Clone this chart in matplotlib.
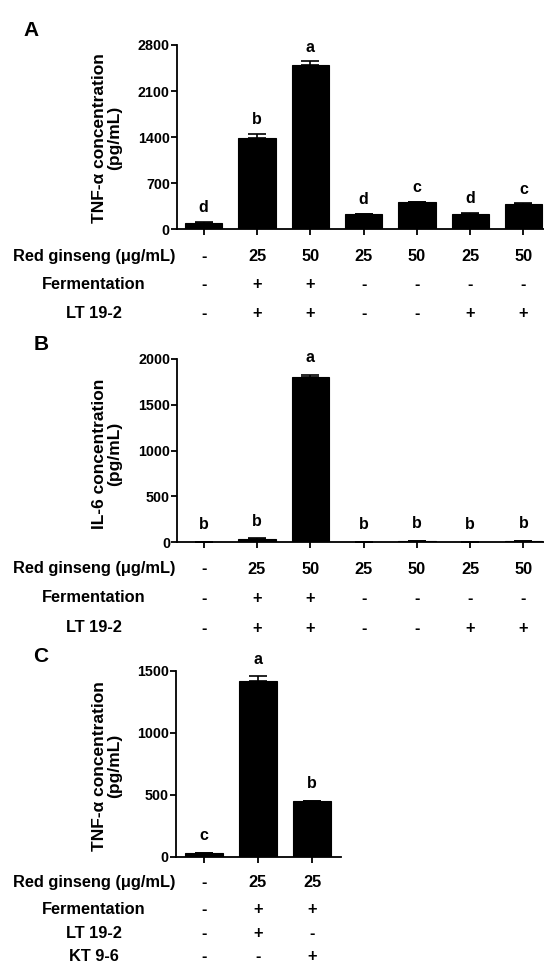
import matplotlib
matplotlib.use("Agg")
import matplotlib.pyplot as plt
import matplotlib.transforms as mtransforms
import numpy as np

plt.rcParams['font.family'] = ['Liberation Sans', 'DejaVu Sans']
plt.rcParams['font.weight'] = 'bold'

# ---------------- data ----------------
a_values = [100, 1380, 2500, 232, 409, 237, 389]
a_errors = [8, 65, 50, 8, 6, 8, 6]
a_letters = ['d', 'b', 'a', 'd', 'c', 'd', 'c']
a_yticks = [0, 700, 1400, 2100, 2800]
a_ylabel = "TNF-\u03b1 concentration\n(pg/mL)"

b_values = [3, 35, 1800, 3, 10, 3, 10]
b_errors = [1, 5, 30, 1, 2, 1, 2]
b_letters = ['b', 'b', 'a', 'b', 'b', 'b', 'b']
b_yticks = [0, 500, 1000, 1500, 2000]
b_ylabel = "IL-6 concentration\n(pg/mL)"

c_values = [30, 1420, 446]
c_errors = [3, 35, 4]
c_letters = ['c', 'a', 'b']
c_yticks = [0, 500, 1000, 1500]
c_ylabel = "TNF-\u03b1 concentration\n(pg/mL)"

row_names_ab = ["Red ginseng (\u03bcg/mL)", "Fermentation", "LT 19-2"]
rows_ab = [
    ["-", "25", "50", "25", "50", "25", "50"],
    ["-", "+", "+", "-", "-", "-", "-"],
    ["-", "+", "+", "-", "-", "+", "+"],
]
row_names_c = ["Red ginseng (\u03bcg/mL)", "Fermentation", "LT 19-2", "KT 9-6"]
rows_c = [
    ["-", "25", "25"],
    ["-", "+", "+"],
    ["-", "+", "-"],
    ["-", "-", "+"],
]

W, H = 544, 965
fig = plt.figure(figsize=(W / 100, H / 100), dpi=100)

ROW_FS = 11.8


def px_axes(left, right, top, bottom):
    return fig.add_axes([left / W, 1 - bottom / H, (right - left) / W, (bottom - top) / H])


def draw_panel(ax, values, errors, letters, yticks, ylabel, xlim, ylabel_y, letter_off):
    x = np.arange(len(values))
    ax.bar(x, values, width=0.70, color='black', edgecolor='black', linewidth=0.8, zorder=2)
    ax.errorbar(x, values, yerr=[np.zeros(len(values)), errors], fmt='none',
                ecolor='black', elinewidth=1.2, capsize=6.8, capthick=1.2, zorder=3)
    for xi, v, e, l in zip(x, values, errors, letters):
        ax.annotate(l, (xi, v + e), xytext=(0, letter_off), textcoords='offset points',
                    ha='center', va='baseline', fontsize=11.5, fontweight='bold')
    ax.set_xlim(*xlim)
    ax.set_ylim(0, yticks[-1])
    ax.set_yticks(yticks)
    ax.set_yticklabels([str(t) for t in yticks], fontsize=10.3, fontweight='bold')
    ax.set_xticks(x)
    ax.set_xticklabels([])
    for s in ['top', 'right']:
        ax.spines[s].set_visible(False)
    for s in ['left', 'bottom']:
        ax.spines[s].set_linewidth(1.3)
    ax.tick_params(axis='both', direction='out', length=4, width=1.3, pad=1)
    fig.text(107 / W, 1 - ylabel_y / H, ylabel, rotation=90, ha='center', va='center',
             fontsize=12.5, fontweight='bold', multialignment='center', linespacing=1.05)


def draw_table(ax, names, rows, ys):
    trans = mtransforms.blended_transform_factory(ax.transData, fig.transFigure)
    for name, row, y in zip(names, rows, ys):
        fig.text(94 / W, 1 - y / H, name, ha='center', va='center', fontsize=ROW_FS,
                 fontweight='bold')
        for i, s in enumerate(row):
            ax.text(i, 1 - y / H, s, transform=trans, ha='center', va='center',
                    fontsize=ROW_FS, fontweight='bold', clip_on=False)


# Panel A
axA = px_axes(176.7, 544, 45, 229.3)
draw_panel(axA, a_values, a_errors, a_letters, a_yticks, a_ylabel, (-0.507, 6.385), 138, 7)
draw_table(axA, row_names_ab, rows_ab, [256.7, 285, 313.5])
fig.text(31 / W, 1 - 30 / H, "A", ha='center', va='center', fontsize=15, fontweight='bold')

# Panel B
axB = px_axes(177, 544, 359, 542)
draw_panel(axB, b_values, b_errors, b_letters, b_yticks, b_ylabel, (-0.5, 6.385), 454, 9)
draw_table(axB, row_names_ab, rows_ab, [569, 598, 628])
fig.text(41 / W, 1 - 344 / H, "B", ha='center', va='center', fontsize=15, fontweight='bold')

# Panel C
axC = px_axes(175.5, 340.5, 670.7, 856.7)
draw_panel(axC, c_values, c_errors, c_letters, c_yticks, c_ylabel, (-0.52, 2.526), 766, 9)
draw_table(axC, row_names_c, rows_c, [882.3, 909.3, 933.3, 956.7])
fig.text(41 / W, 1 - 657 / H, "C", ha='center', va='center', fontsize=15, fontweight='bold')

fig.savefig("out.png", dpi=100, facecolor='white')
